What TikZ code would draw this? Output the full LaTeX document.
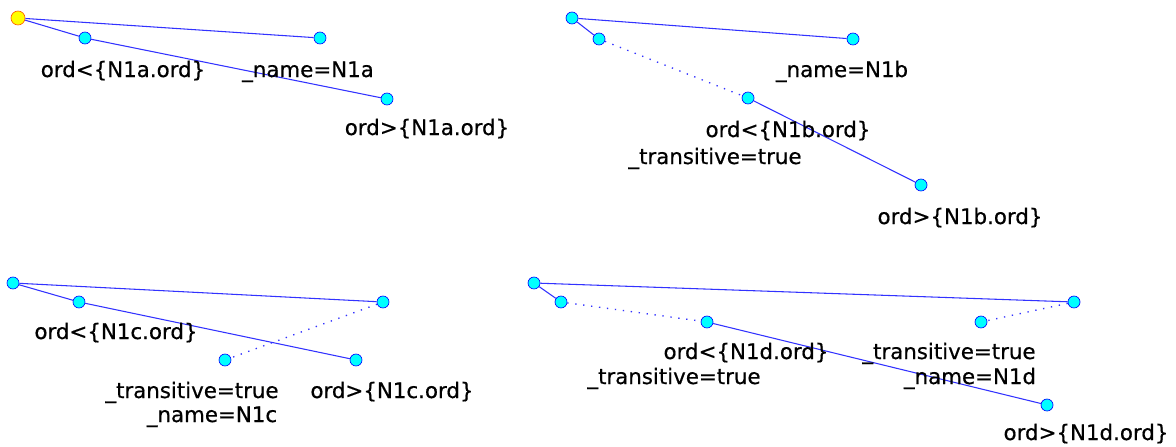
\documentclass[tikz,border=0pt]{standalone}
\usepackage{fontspec}
\setmainfont{DejaVu Sans}
\newfontfamily\lblfont{DejaVu Sans}[FakeBold=0.6]
\usetikzlibrary{positioning}
\definecolor{linkblue}{RGB}{50,50,255}
\definecolor{ptblue}{RGB}{0,0,255}
\definecolor{ptcyan}{RGB}{0,255,255}
\definecolor{rootred}{RGB}{255,90,0}
\definecolor{rootyellow}{RGB}{255,255,0}
\tikzset{pt/.style={circle,draw=ptblue,fill=ptcyan,line width=.5pt,inner sep=0pt,minimum size=9pt}}
\tikzset{rootpt/.style={pt,draw=rootred,fill=rootyellow,minimum size=10.5pt}}
\tikzset{link/.style={draw=linkblue,line width=.8pt}}
\tikzset{translink/.style={link,line width=1pt,dash pattern=on 1pt off 5pt}}
\tikzset{lbl/.style={font=\lblfont\fontsize{16}{19}\selectfont,inner sep=0pt,anchor=base}}

\begin{document}
\begin{tikzpicture}[x=.75pt,y=-.75pt]
\useasboundingbox (0,0) rectangle (1176,446);
% N1a
\node[rootpt](a0)at(18,18){};\node[pt](a1)at(85,38){};\node[pt](a2)at(320,38){};\node[pt](a3)at(387,99){};
\draw[link](a0)--(a2);\draw[link](a0)--(a1)--(a3);
\node[lbl](la1)at(123,77){ord<\{N1a.ord\}};\node[lbl](la2)at(308,77){\_name=N1a};\node[lbl](la3)at(427,135){ord>\{N1a.ord\}};
% N1b
\node[pt](b0)at(572,18){};\node[pt](b1)at(599,39){};\node[pt](b2)at(853,39){};\node[pt](b3)at(748,98){};\node[pt](b4)at(921,185){};
\draw[link](b0)--(b2);\draw[link](b0)--(b1);\draw[translink](b1)--(b3);\draw[link](b3)--(b4);
\node[lbl](lb2)at(842,77){\_name=N1b};\node[lbl](lb3)at(788,137){ord<\{N1b.ord\}};\node[lbl](lb3t)at(715,164){\_transitive=true};
\node[lbl](lb4)at(960,224){ord>\{N1b.ord\}};
% N1c
\node[pt](c0)at(13,283){};\node[pt](c1)at(79,302){};\node[pt](c2)at(383,302){};\node[pt](c3)at(225,360){};\node[pt](c4)at(356,360){};
\draw[link](c0)--(c2);\draw[link](c0)--(c1)--(c4);\draw[translink](c2)--(c3);
\node[lbl](lc1)at(116,339){ord<\{N1c.ord\}};\node[lbl](lc3t)at(192,398){\_transitive=true};\node[lbl](lc3)at(212,422){\_name=N1c};
\node[lbl](lc4)at(392,398){ord>\{N1c.ord\}};
% N1d
\node[pt](d0)at(534,283){};\node[pt](d1)at(561,302){};\node[pt](d2)at(1074,302){};\node[pt](d3)at(707,322){};\node[pt](d5)at(981,322){};
\node[pt](d4)at(1047,405){};
\draw[link](d0)--(d2);\draw[link](d0)--(d1);\draw[translink](d1)--(d3);\draw[link](d3)--(d4);\draw[translink](d2)--(d5);
\node[lbl](ld3)at(746,359){ord<\{N1d.ord\}};\node[lbl](ld3t)at(674,384){\_transitive=true};
\node[lbl](ld5t)at(949,359){\_transitive=true};\node[lbl](ld5)at(970,384){\_name=N1d};\node[lbl](ld4)at(1086,440){ord>\{N1d.ord\}};
\end{tikzpicture}
\end{document}
